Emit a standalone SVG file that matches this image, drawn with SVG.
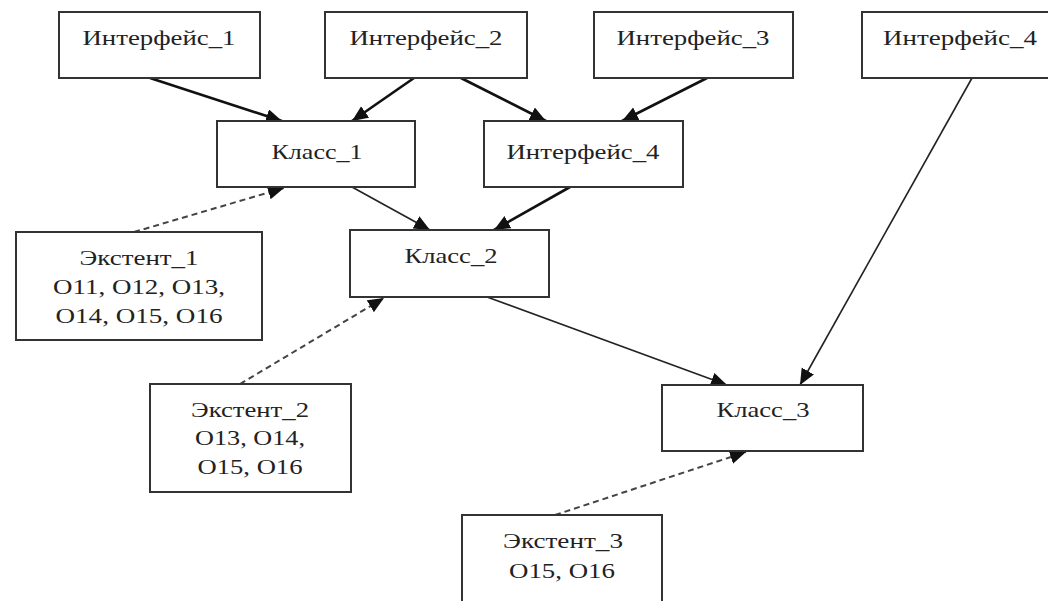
<svg xmlns="http://www.w3.org/2000/svg" width="1048" height="601" viewBox="0 0 1048 601">
<style>
.box{fill:#fff;stroke:#333;stroke-width:2}
.t{font-family:"Liberation Serif","Times New Roman",serif;font-size:21px;fill:#222;text-anchor:middle}
.thick{stroke:#111;stroke-width:2.6;fill:none}
.thin{stroke:#222;stroke-width:1.6;fill:none}
.dash{stroke:#444;stroke-width:2;fill:none;stroke-dasharray:6 4}
</style>
<defs>
<marker id="ah" markerUnits="userSpaceOnUse" markerWidth="18" markerHeight="16" refX="16" refY="7" orient="auto">
<path d="M0,0 L16,7 L0,14 z" fill="#111"/>
</marker>
</defs>
<rect width="1048" height="601" fill="#fff"/>
<g id="connectors">
<line class="thick" x1="150" y1="78" x2="282" y2="121" marker-end="url(#ah)"/>
<line class="thick" x1="414" y1="78" x2="352" y2="121" marker-end="url(#ah)"/>
<line class="thick" x1="461" y1="78" x2="546" y2="121" marker-end="url(#ah)"/>
<line class="thick" x1="707" y1="78" x2="622" y2="121" marker-end="url(#ah)"/>
<line class="thin" x1="972" y1="78" x2="800" y2="385" marker-end="url(#ah)"/>
<line class="thin" x1="352" y1="187" x2="430" y2="230" marker-end="url(#ah)"/>
<line class="thick" x1="570" y1="187" x2="494" y2="230" marker-end="url(#ah)"/>
<line class="thin" x1="487" y1="297" x2="727" y2="385" marker-end="url(#ah)"/>
<line class="dash" x1="134" y1="232" x2="284" y2="188" marker-end="url(#ah)"/>
<line class="dash" x1="240" y1="384" x2="384" y2="298" marker-end="url(#ah)"/>
<line class="dash" x1="555" y1="515" x2="746" y2="452" marker-end="url(#ah)"/>
</g>
<g id="interface1"><rect class="box" x="59" y="12" width="201" height="66"/><text class="t" x="159" y="45" textLength="153" lengthAdjust="spacingAndGlyphs">Интерфейс_1</text></g>
<g id="interface2"><rect class="box" x="325" y="12" width="202" height="66"/><text class="t" x="426" y="45" textLength="153" lengthAdjust="spacingAndGlyphs">Интерфейс_2</text></g>
<g id="interface3"><rect class="box" x="594" y="12" width="199" height="66"/><text class="t" x="693" y="45" textLength="153" lengthAdjust="spacingAndGlyphs">Интерфейс_3</text></g>
<g id="interface4top"><rect class="box" x="862" y="12" width="200" height="66"/><text class="t" x="960" y="45" textLength="154" lengthAdjust="spacingAndGlyphs">Интерфейс_4</text></g>
<g id="class1"><rect class="box" x="217" y="121" width="198" height="66"/><text class="t" x="317" y="159" textLength="91" lengthAdjust="spacingAndGlyphs">Класс_1</text></g>
<g id="interface4mid"><rect class="box" x="484" y="121" width="199" height="66"/><text class="t" x="583" y="159" textLength="153" lengthAdjust="spacingAndGlyphs">Интерфейс_4</text></g>
<g id="class2"><rect class="box" x="350" y="230" width="199" height="67"/><text class="t" x="451" y="263" textLength="93" lengthAdjust="spacingAndGlyphs">Класс_2</text></g>
<g id="class3"><rect class="box" x="662" y="385" width="201" height="66"/><text class="t" x="763" y="417" textLength="93" lengthAdjust="spacingAndGlyphs">Класс_3</text></g>
<g id="extent1"><rect class="box" x="16" y="232" width="246" height="108"/>
<text class="t" x="139" y="265" textLength="119" lengthAdjust="spacingAndGlyphs">Экстент_1</text>
<text class="t" x="139" y="294" textLength="172" lengthAdjust="spacingAndGlyphs">O11, O12, O13,</text>
<text class="t" x="139" y="323" textLength="167" lengthAdjust="spacingAndGlyphs">O14, O15, O16</text></g>
<g id="extent2"><rect class="box" x="150" y="384" width="201" height="108"/>
<text class="t" x="250" y="417" textLength="118" lengthAdjust="spacingAndGlyphs">Экстент_2</text>
<text class="t" x="250" y="445" textLength="110" lengthAdjust="spacingAndGlyphs">O13, O14,</text>
<text class="t" x="250" y="474" textLength="105" lengthAdjust="spacingAndGlyphs">O15, O16</text></g>
<g id="extent3"><rect class="box" x="462" y="515" width="200" height="100"/>
<text class="t" x="563" y="548" textLength="120" lengthAdjust="spacingAndGlyphs">Экстент_3</text>
<text class="t" x="562" y="578" textLength="106" lengthAdjust="spacingAndGlyphs">O15, O16</text></g>
</svg>
